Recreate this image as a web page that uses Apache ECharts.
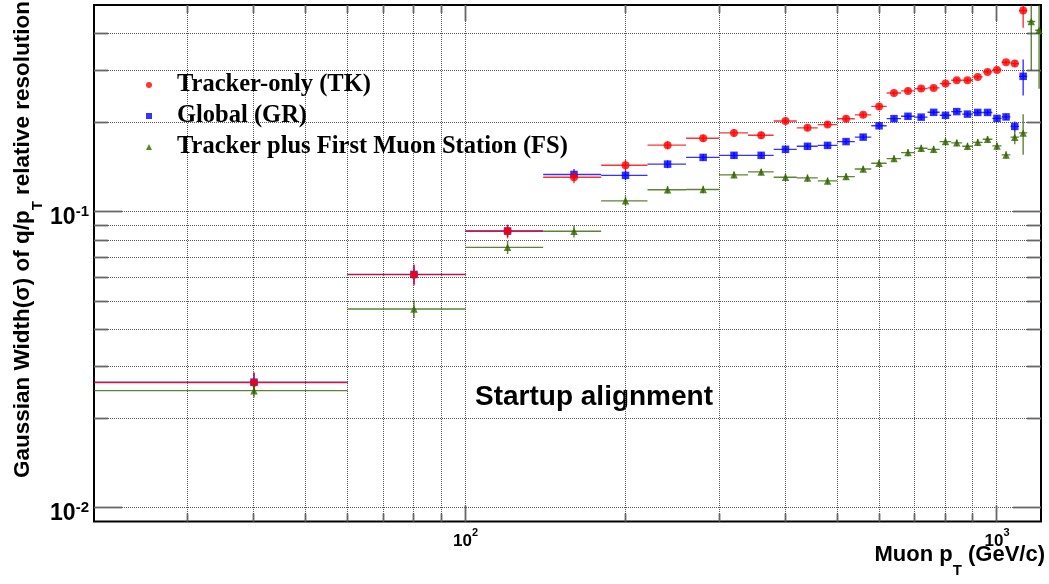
<!DOCTYPE html>
<html>
<head>
<meta charset="utf-8">
<script src="https://cdn.jsdelivr.net/npm/echarts@6/dist/echarts.min.js"></script>
<style>
  html, body { margin: 0; padding: 0; background: #fff; }
  #chart { width: 1049px; height: 584px; }
</style>
</head>
<body>
<div id="chart"></div>
<script>
// ---- measured resolution per muon pT bin (bin centres in GeV/c, bins are 40 GeV wide) ----
const binCentersTK = [40, 80, 120, 160, 200, 240, 280, 320, 360, 400, 440, 480, 520, 560,
  600, 640, 680, 720, 760, 800, 840, 880, 920, 960, 1000, 1040, 1080, 1120];
const binCentersGR = binCentersTK.slice();
const binCentersFS = binCentersTK.concat([1160, 1200]);
const binHalfWidth = 20;

const sigmaTK = [0.0265, 0.0614, 0.0860, 0.1309, 0.1437, 0.1681, 0.1773, 0.1849, 0.1815, 0.2029,
  0.1923, 0.1972, 0.2063, 0.2128, 0.2272, 0.2523, 0.2563, 0.2610, 0.2624, 0.2713,
  0.2784, 0.2784, 0.2858, 0.2972, 0.3018, 0.3202, 0.3170, 0.4787];
const errTK = [0.0022, 0.0050, 0.0046, 0.0060, 0.0062, 0.0052, 0.0050, 0.0052, 0.0050, 0.0045,
  0.0045, 0.0045, 0.0045, 0.0045, 0.0050, 0.0050, 0.0050, 0.0050, 0.0050, 0.0050,
  0.0050, 0.0050, 0.0050, 0.0055, 0.0055, 0.0050, 0.0080, 0.0600];

const sigmaGR = [0.0266, 0.0615, 0.0862, 0.1338, 0.1329, 0.1450, 0.1528, 0.1553, 0.1553, 0.1627,
  0.1666, 0.1678, 0.1728, 0.1789, 0.1954, 0.2066, 0.2104, 0.2090, 0.2170, 0.2120,
  0.2182, 0.2140, 0.2168, 0.2168, 0.2070, 0.2094, 0.1945, 0.2871];
const errGR = [0.0020, 0.0045, 0.0040, 0.0057, 0.0050, 0.0045, 0.0040, 0.0040, 0.0040, 0.0040,
  0.0040, 0.0040, 0.0040, 0.0040, 0.0045, 0.0045, 0.0045, 0.0045, 0.0045, 0.0045,
  0.0045, 0.0045, 0.0045, 0.0045, 0.0050, 0.0050, 0.0076, 0.0400];

const sigmaFS = [0.0249, 0.0470, 0.0759, 0.0860, 0.1090, 0.1188, 0.1191, 0.1334, 0.1365, 0.1309,
  0.1303, 0.1273, 0.1316, 0.1397, 0.1460, 0.1514, 0.1586, 0.1640, 0.1627, 0.1728,
  0.1711, 0.1666, 0.1718, 0.1759, 0.1671, 0.1558, 0.1789, 0.1849, 0.4396, 0.4108];
const errFS = [0.0013, 0.0032, 0.0038, 0.0040, 0.0040, 0.0035, 0.0035, 0.0035, 0.0035, 0.0035,
  0.0035, 0.0035, 0.0035, 0.0035, 0.0040, 0.0040, 0.0045, 0.0045, 0.0045, 0.0045,
  0.0045, 0.0045, 0.0045, 0.0045, 0.0045, 0.0045, 0.0095, 0.0290, 0.1400, 0.1500];

// ---- axis ranges and grid/tick values ----
const xRange = [20, 1210];
const yRange = [0.009, 0.5];
const xGridValues = [30, 40, 50, 60, 70, 80, 90, 100, 200, 300, 400, 500, 600, 700, 800, 900, 1000];
const xMajorValues = [100, 1000];
const yGridValues = [0.01, 0.02, 0.03, 0.04, 0.05, 0.06, 0.07, 0.08, 0.09, 0.1, 0.2, 0.3, 0.4];
const yMajorValues = [0.01, 0.1];

const seriesNames = ['Tracker-only (TK)', 'Global (GR)', 'Tracker plus First Muon Station (FS)'];
const seriesColors = ['#ff0000', '#0000ff', '#336600'];

function zip3(a, b, c) { return a.map((v, i) => [v, b[i], c[i]]); }
const pointsTK = zip3(binCentersTK, sigmaTK, errTK);
const pointsGR = zip3(binCentersGR, sigmaGR, errGR);
const pointsFS = zip3(binCentersFS, sigmaFS, errFS);

function powerLabel(v) {
  const e = Math.log10(v);
  const r = Math.round(e);
  if (Math.abs(e - r) > 1e-6) return '';
  return '{b|10}{s|' + r + '}';
}

function snap(v) { return Math.round(v - 0.5) + 0.5; }

// dotted grid and inward ROOT-style ticks on all four sides
function renderFrame(params, api) {
  const cs = params.coordSys;
  const L = cs.x, R = cs.x + cs.width, T = cs.y, B = cs.y + cs.height;
  const kids = [];
  const gridStyle = { stroke: '#555', lineWidth: 1, lineDash: [1, 1] };
  const tickStyle = { stroke: '#666', lineWidth: 1.8 };
  xGridValues.forEach(v => {
    const px = snap(api.coord([v, 0.1])[0]);
    kids.push({ type: 'line', shape: { x1: px, y1: T, x2: px, y2: B }, style: gridStyle, silent: true });
    const len = xMajorValues.includes(v) ? 16 : 8;
    kids.push({ type: 'line', shape: { x1: px, y1: B, x2: px, y2: B - len }, style: tickStyle, silent: true });
    kids.push({ type: 'line', shape: { x1: px, y1: T, x2: px, y2: T + len }, style: tickStyle, silent: true });
  });
  yGridValues.forEach(v => {
    const py = snap(api.coord([100, v])[1]);
    kids.push({ type: 'line', shape: { x1: L, y1: py, x2: R, y2: py }, style: gridStyle, silent: true });
    const len = yMajorValues.includes(v) ? 28 : 14;
    kids.push({ type: 'line', shape: { x1: L, y1: py, x2: L + len, y2: py }, style: tickStyle, silent: true });
    kids.push({ type: 'line', shape: { x1: R, y1: py, x2: R - len, y2: py }, style: tickStyle, silent: true });
  });
  return { type: 'group', children: kids };
}

// horizontal bar = bin width, vertical bar = statistical error
function errorBars(color) {
  return function (params, api) {
    const x = api.value(0), y = api.value(1), e = api.value(2);
    const pL = api.coord([x - binHalfWidth, y]);
    const pR = api.coord([x + binHalfWidth, y]);
    const pT = api.coord([x, y + e]);
    const pB = api.coord([x, Math.max(y - e, yRange[0])]);
    const st = { stroke: color, lineWidth: 1.4, opacity: 0.8 };
    return {
      type: 'group',
      children: [
        { type: 'line', shape: { x1: pL[0], y1: pL[1], x2: pR[0], y2: pR[1] }, style: st },
        { type: 'line', shape: { x1: pT[0], y1: pT[1], x2: pB[0], y2: pB[1] }, style: st }
      ]
    };
  };
}

const chart = echarts.init(document.getElementById('chart'), null, { renderer: 'canvas' });

const sansBold = { fontFamily: 'Liberation Sans', fontWeight: 'bold', color: '#000' };

const option = {
  backgroundColor: '#fff',
  animation: false,
  grid: { left: 94, top: 5, width: 947, height: 516.5, show: true, borderColor: '#000', borderWidth: 2, backgroundColor: 'transparent' },
  xAxis: {
    type: 'log', logBase: 10, min: xRange[0], max: xRange[1],
    axisLine: { show: false }, axisTick: { show: false }, splitLine: { show: false },
    axisLabel: {
      formatter: powerLabel, margin: 6,
      rich: {
        b: Object.assign({ fontSize: 17, lineHeight: 22, verticalAlign: 'bottom' }, sansBold),
        s: Object.assign({ fontSize: 11, lineHeight: 11, verticalAlign: 'top' }, sansBold)
      }
    }
  },
  yAxis: {
    type: 'log', logBase: 10, min: yRange[0], max: yRange[1],
    axisLine: { show: false }, axisTick: { show: false }, splitLine: { show: false },
    axisLabel: {
      formatter: powerLabel, margin: 5, padding: [10, 0, 0, 0],
      rich: {
        b: Object.assign({ fontSize: 23, lineHeight: 25, verticalAlign: 'bottom' }, sansBold),
        s: Object.assign({ fontSize: 15, lineHeight: 15, verticalAlign: 'top' }, sansBold)
      }
    }
  },
  legend: {
    orient: 'vertical', left: 141, top: 67.5, itemWidth: 6, itemHeight: 6, itemGap: 6,
    selectedMode: false,
    data: [
      { name: seriesNames[0], icon: 'circle' },
      { name: seriesNames[1], icon: 'rect' },
      { name: seriesNames[2], icon: 'triangle' }
    ],
    textStyle: { fontFamily: 'Liberation Serif', fontWeight: 'bold', fontSize: 24.5, lineHeight: 24, color: '#000', padding: [0, 0, 0, 20] }
  },
  graphic: [
    {
      type: 'text', x: 28, y: 478, rotation: Math.PI / 2,
      style: {
        text: '{m|Gaussian Width(σ) of q/p}{t|T}{m| relative resolution}',
        align: 'left', verticalAlign: 'middle',
        rich: {
          m: { fontFamily: 'Liberation Sans', fontWeight: 'bold', fontSize: 22.5, lineHeight: 23, verticalAlign: 'top', fill: '#000' },
          t: { fontFamily: 'Liberation Sans', fontWeight: 'bold', fontSize: 15, lineHeight: 34, verticalAlign: 'bottom', fill: '#000' }
        }
      }
    },
    {
      type: 'text', x: 1045, y: 561,
      style: {
        text: '{m|Muon p}{t|T}{m| (GeV/c)}',
        align: 'right', verticalAlign: 'middle',
        rich: {
          m: { fontFamily: 'Liberation Sans', fontWeight: 'bold', fontSize: 22, lineHeight: 22, verticalAlign: 'top', fill: '#000' },
          t: { fontFamily: 'Liberation Sans', fontWeight: 'bold', fontSize: 15, lineHeight: 34, verticalAlign: 'bottom', fill: '#000' }
        }
      }
    },
    {
      type: 'text', x: 475, y: 397,
      style: { text: 'Startup alignment', fontFamily: 'Liberation Sans', fontWeight: 'bold', fontSize: 28, fill: '#000', align: 'left', verticalAlign: 'middle' }
    }
  ],
  series: [
    { type: 'custom', name: 'frame', data: [[100, 0.1]], encode: { x: 0, y: 1 }, renderItem: renderFrame, z: 0, silent: true },
    { type: 'custom', name: 'GR bars', data: pointsGR, encode: { x: 0, y: 1 }, renderItem: errorBars(seriesColors[1]), clip: true, z: 2 },
    { type: 'scatter', name: seriesNames[1], data: pointsGR.map(p => [p[0], p[1]]), symbol: 'rect', symbolSize: 7.5, itemStyle: { color: seriesColors[1] }, clip: true, z: 3 },
    { type: 'custom', name: 'TK bars', data: pointsTK, encode: { x: 0, y: 1 }, renderItem: errorBars(seriesColors[0]), clip: true, z: 4 },
    { type: 'scatter', name: seriesNames[0], data: pointsTK.map(p => [p[0], p[1]]), symbol: 'circle', symbolSize: 8, itemStyle: { color: seriesColors[0] }, clip: true, z: 5 },
    { type: 'custom', name: 'FS bars', data: pointsFS, encode: { x: 0, y: 1 }, renderItem: errorBars(seriesColors[2]), clip: true, z: 6 },
    { type: 'scatter', name: seriesNames[2], data: pointsFS.map(p => [p[0], p[1]]), symbol: 'triangle', symbolSize: 7.5, itemStyle: { color: seriesColors[2] }, clip: true, z: 7 }
  ]
};

chart.setOption(option);
</script>
</body>
</html>
